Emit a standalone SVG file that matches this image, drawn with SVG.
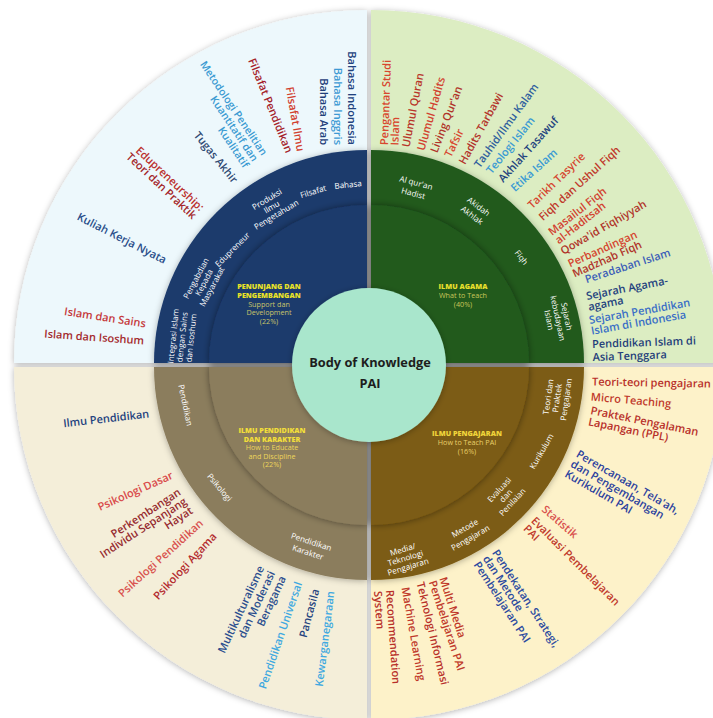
<svg xmlns="http://www.w3.org/2000/svg" width="713" height="718" viewBox="0 0 713 718">
<defs>
<filter id="sh" x="-20%" y="-20%" width="140%" height="140%"><feDropShadow dx="0" dy="1" stdDeviation="3" flood-color="#000" flood-opacity="0.3"/></filter>
<filter id="sh2" x="-20%" y="-20%" width="140%" height="140%"><feDropShadow dx="0" dy="0" stdDeviation="3.5" flood-color="#000" flood-opacity="0.45"/></filter>
<style>
text{font-family:"Open Sans","Liberation Sans",sans-serif;dominant-baseline:central}
.o{font-size:11px;font-weight:600}
.e{text-anchor:end}
.s{text-anchor:start}
.r{font-size:8.1px;fill:#fff;text-anchor:middle}
.h{font-size:7.2px;font-weight:800;text-anchor:middle}
.t{font-size:7.2px;text-anchor:middle}
.c{font-size:12.8px;font-weight:700;fill:#1d1d1d;text-anchor:middle}
</style>
</defs>
<rect width="713" height="718" fill="#fff"/>
<g id="background">
<g filter="url(#sh)">
<path d="M367,363 L14,363 A353,353 0 0 1 367,10 Z" fill="#edf8fc"/>
<path d="M371,363 L371,10 A353,353 0 0 1 724,363 Z" fill="#dcedc2"/>
<path d="M371,367 L724,367 A353,353 0 0 1 371,720 Z" fill="#fdf2c9"/>
<path d="M367,367 L367,720 A353,353 0 0 1 14,367 Z" fill="#f4eed9"/>
</g>
<g filter="url(#sh)">
<path d="M367,363 L154,363 A213,213 0 0 1 367,150 Z" fill="#1c3a6c"/>
<path d="M371,363 L371,150 A213,213 0 0 1 584,363 Z" fill="#215a1f"/>
<path d="M371,367 L584,367 A213,213 0 0 1 371,580 Z" fill="#7c5b14"/>
<path d="M367,367 L367,580 A213,213 0 0 1 154,367 Z" fill="#8b7d5d"/>
</g>
<g filter="url(#sh2)">
<path d="M367,363 L209,363 A158,158 0 0 1 367,205 Z" fill="#1c3a6c"/>
<path d="M371,363 L371,205 A158,158 0 0 1 529,363 Z" fill="#215a1f"/>
<path d="M371,367 L529,367 A158,158 0 0 1 371,525 Z" fill="#7c5b14"/>
<path d="M367,367 L367,525 A158,158 0 0 1 209,367 Z" fill="#8b7d5d"/>
</g>
</g>
<g id="connectors"/>
<g id="node-center">
<circle cx="369" cy="365" r="77" fill="#a9e6cc" filter="url(#sh)"/>
<text class="c" x="370" y="362">Body of Knowledge</text>
<text class="c" x="370" y="383">PAI</text>
</g>

<g id="node-penunjang">
<text class="h" fill="#e9e227"><tspan x="269" y="286">PENUNJANG DAN</tspan><tspan x="269" y="295">PENGEMBANGAN</tspan></text>
<text class="t" fill="#c9c46a"><tspan x="269" y="303.5">Support dan</tspan><tspan x="269" y="312">Development</tspan><tspan x="269" y="320.5">(22%)</tspan></text>
<text id="r-bahasa" class="r" transform="translate(348,184) rotate(-6)">Bahasa</text>
<text id="r-filsafat" class="r" transform="translate(313,191) rotate(-17)">Filsafat</text>
<text id="r-produksi" class="r" transform="translate(271,206) rotate(-31)"><tspan x="0" y="-9">Produksi</tspan><tspan x="0" y="0">Ilmu</tspan><tspan x="0" y="9">Pengetahuan</tspan></text>
<text id="r-edupreneur" class="r" transform="translate(232,249) rotate(-45)">Edupreneur</text>
<text id="r-pengabdian" class="r" transform="translate(203,282) rotate(-62)"><tspan x="0" y="-9">Pengabdian</tspan><tspan x="0" y="0">Kepada</tspan><tspan x="0" y="9">Masyarakat</tspan></text>
<text id="r-integrasi" class="r" transform="translate(181,337) rotate(-84)"><tspan x="0" y="-9">Integrasi Islam</tspan><tspan x="0" y="0">dengan Sains</tspan><tspan x="0" y="9">dan Isoshum</tspan></text>
<text id="o-bahasa" class="o e" transform="translate(353,145) rotate(90)"><tspan x="0" y="0" fill="#22427e">Bahasa Indonesia</tspan><tspan x="0" y="14" fill="#3d9ad4">Bahasa Inggris</tspan><tspan x="0" y="28" fill="#1f3e7a">Bahasa Arab</tspan></text>
<text id="o-filsafat-ilmu" class="o e" fill="#d2412f" transform="translate(301.5,151) rotate(80)">Filsafat Ilmu</text>
<text id="o-filsafat-pend" class="o e" fill="#a5232b" transform="translate(290,152) rotate(68)">Filsafat Pendidikan</text>
<text id="o-metodologi" class="o e" fill="#3a9ad2" style="font-size:10.5px" transform="translate(265,154) rotate(56)"><tspan x="0" y="0">Metodologi Penelitian</tspan><tspan x="0" y="11">Kuantitatif dan</tspan><tspan x="0" y="22">Kualitatif</tspan></text>
<text id="o-tugas" class="o e" fill="#2f4a73" transform="translate(236,181) rotate(51)">Tugas Akhir</text>
<text id="o-edupreneurship" class="o e" transform="translate(203,208) rotate(43)"><tspan x="0" y="0" fill="#bb302e">Edupreneurship:</tspan><tspan x="0" y="11" fill="#a3262a">Teori dan Praktik</tspan></text>
<text id="o-kkn" class="o e" fill="#2a4e8a" transform="translate(166,260) rotate(27)">Kuliah Kerja Nyata</text>
<text id="o-sains" class="o e" fill="#c5383b" transform="translate(146,323) rotate(8.7)">Islam dan Sains</text>
<text id="o-isoshum" class="o e" fill="#a42b2e" transform="translate(144,340) rotate(4)">Islam dan Isoshum</text>
</g>

<g id="node-agama">
<text class="h" fill="#e6df2c" x="463" y="286">ILMU AGAMA</text>
<text class="t" fill="#c8c65a"><tspan x="463" y="295">What to Teach</tspan><tspan x="463" y="303.5">(40%)</tspan></text>
<text id="r-alquran" class="r" transform="translate(415,187) rotate(15)"><tspan x="0" y="-5.5">Al qur'an</tspan><tspan x="0" y="5.5">Hadist</tspan></text>
<text id="r-akidah" class="r" transform="translate(476,210) rotate(37)"><tspan x="0" y="-5.5">Akidah</tspan><tspan x="0" y="5.5">Akhlak</tspan></text>
<text id="r-fiqh" class="r" transform="translate(522,257) rotate(53)">Fiqh</text>
<text id="r-sejarah" class="r" transform="translate(559,318) rotate(78)"><tspan x="0" y="-9">Sejarah</tspan><tspan x="0" y="0">kebudayaan</tspan><tspan x="0" y="9">Islam</tspan></text>
<text id="o-pengantar" class="o s" fill="#d8462e" transform="translate(383,145) rotate(-88)"><tspan x="0" y="0">Pengantar Studi</tspan><tspan x="0" y="10.5">Islam</tspan></text>
<text id="o-ulumul-quran" class="o s" fill="#b8352a" transform="translate(405,147) rotate(-79)">Ulumul Quran</text>
<text id="o-ulumul-hadits" class="o s" fill="#d2412f" transform="translate(420,150) rotate(-74)">Ulumul Hadits</text>
<text id="o-living" class="o s" fill="#b0342a" transform="translate(433,152) rotate(-69)">Living Qur'an</text>
<text id="o-tafsir" class="o s" fill="#d8452f" transform="translate(447,156) rotate(-64)">Tafsir</text>
<text id="o-hadits-tarbawi" class="o s" fill="#b3332b" transform="translate(461,163) rotate(-61)">Hadits Tarbawi</text>
<text id="o-tauhid" class="o s" fill="#2f5f9e" transform="translate(476,166) rotate(-54)">Tauhid/Ilmu Kalam</text>
<text id="o-teologi" class="o s" fill="#3b9bd3" transform="translate(488,172) rotate(-51)">Teologi Islam</text>
<text id="o-akhlak" class="o s" fill="#23427e" transform="translate(500,180) rotate(-48)">Akhlak Tasawuf</text>
<text id="o-etika" class="o s" fill="#3b9bd3" transform="translate(512,189) rotate(-42)">Etika Islam</text>
<text id="o-tarikh" class="o s" fill="#d5452f" transform="translate(529,206) rotate(-44)">Tarikh Tasyrie</text>
<text id="o-fiqh-ushul" class="o s" fill="#c0392b" transform="translate(540,218) rotate(-42)">Fiqh dan Ushul Fiqh</text>
<text id="o-masailul" class="o s" fill="#d2412f" transform="translate(549,232) rotate(-38)"><tspan x="0" y="0">Masailul Fiqh</tspan><tspan x="0" y="11">al-Haditsah</tspan></text>
<text id="o-qowaid" class="o s" fill="#b0342a" transform="translate(561,251) rotate(-30)">Qowa'id Fiqhiyyah</text>
<text id="o-perbandingan" class="o s" transform="translate(568,263) rotate(-24)"><tspan x="0" y="0" fill="#d5452f">Perbandingan</tspan><tspan x="0" y="11" fill="#b0342a">Madzhab Fiqh</tspan></text>
<text id="o-peradaban" class="o s" fill="#3d5fb8" transform="translate(585,279) rotate(-18)">Peradaban Islam</text>
<text id="o-sejarah-agama" class="o s" fill="#23427e" transform="translate(586,295) rotate(-11)"><tspan x="0" y="0">Sejarah Agama-</tspan><tspan x="0" y="11">agama</tspan></text>
<text id="o-sejarah-pend" class="o s" fill="#3a6fc6" transform="translate(589,319) rotate(-10)"><tspan x="0" y="0">Sejarah Pendidikan</tspan><tspan x="0" y="11">Islam di Indonesia</tspan></text>
<text id="o-asia" class="o s" fill="#1f3e7a" transform="translate(592,343) rotate(-2)"><tspan x="0" y="0">Pendidikan Islam di</tspan><tspan x="0" y="13">Asia Tenggara</tspan></text>
</g>

<g id="node-pendidikan">
<text class="h" fill="#f2de3a"><tspan x="272" y="430">ILMU PENDIDIKAN</tspan><tspan x="272" y="438.5">DAN KARAKTER</tspan></text>
<text class="t" fill="#eed65a"><tspan x="272" y="447">How to Educate</tspan><tspan x="272" y="455.5">and Discipline</tspan><tspan x="272" y="464">(22%)</tspan></text>
<text id="r-pendidikan" class="r" transform="translate(186,405) rotate(78)">Pendidikan</text>
<text id="r-psikologi" class="r" transform="translate(220,487) rotate(50)">Psikologi</text>
<text id="r-karakter" class="r" transform="translate(310,546) rotate(18)"><tspan x="0" y="-5.5">Pendidikan</tspan><tspan x="0" y="5.5">Karakter</tspan></text>
<text id="o-ilmu-pend" class="o e" fill="#23427e" transform="translate(149,413) rotate(-6.5)">Ilmu Pendidikan</text>
<text id="o-psi-dasar" class="o e" fill="#d94a4a" transform="translate(172,474) rotate(-24)">Psikologi Dasar</text>
<text id="o-perkembangan" class="o e" fill="#962b30" transform="translate(179,490) rotate(-33)"><tspan x="0" y="0">Perkembangan</tspan><tspan x="0" y="11">Individu Sepanjang</tspan><tspan x="0" y="22">Hayat</tspan></text>
<text id="o-psi-pend" class="o e" fill="#d9534f" transform="translate(201,521) rotate(-42)">Psikologi Pendidikan</text>
<text id="o-psi-agama" class="o e" fill="#b32a2e" transform="translate(214,534) rotate(-47)">Psikologi Agama</text>
<text id="o-multikultural" class="o e" fill="#2c4f8f" transform="translate(260,566) rotate(-65)"><tspan x="0" y="0">Multikulturalisme</tspan><tspan x="0" y="12">dan Moderasi</tspan><tspan x="0" y="24">Beragama</tspan></text>
<text id="o-universal" class="o e" fill="#3fa9e0" transform="translate(298,582) rotate(-71)">Pendidikan Universal</text>
<text id="o-pancasila" class="o e" fill="#23427e" transform="translate(315,589) rotate(-75)">Pancasila</text>
<text id="o-kewarganegaraan" class="o e" fill="#3fa9e0" transform="translate(330,591) rotate(-83)">Kewarganegaraan</text>
</g>

<g id="node-pengajaran">
<text class="h" fill="#f0d43a" x="467" y="433">ILMU PENGAJARAN</text>
<text class="t" fill="#e8cf6a"><tspan x="467" y="442">How to Teach PAI</tspan><tspan x="467" y="451">(16%)</tspan></text>
<text id="r-teori" class="r" transform="translate(556,398) rotate(-82)"><tspan x="0" y="-9">Teori dan</tspan><tspan x="0" y="0">Praktek</tspan><tspan x="0" y="9">Pengajaran</tspan></text>
<text id="r-kurikulum" class="r" transform="translate(541,451) rotate(-60)">Kurikulum</text>
<text id="r-evaluasi" class="r" transform="translate(505,495) rotate(-47)"><tspan x="0" y="-9">Evaluasi</tspan><tspan x="0" y="0">dan</tspan><tspan x="0" y="9">Penilaian</tspan></text>
<text id="r-metode" class="r" transform="translate(467,532) rotate(-30)"><tspan x="0" y="-5.5">Metode</tspan><tspan x="0" y="5.5">Pengajaran</tspan></text>
<text id="r-media" class="r" transform="translate(405,557) rotate(-17)"><tspan x="0" y="-9">Media/</tspan><tspan x="0" y="0">Teknologi</tspan><tspan x="0" y="9">Pengajaran</tspan></text>
<text id="o-teori-teori" class="o s" fill="#b8302a" transform="translate(592,381) rotate(1)">Teori-teori pengajaran</text>
<text id="o-micro" class="o s" fill="#c0392b" transform="translate(591,396) rotate(5)">Micro Teaching</text>
<text id="o-ppl" class="o s" fill="#b8302a" transform="translate(591,409) rotate(11.5)"><tspan x="0" y="0">Praktek Pengalaman</tspan><tspan x="0" y="11.5">Lapangan (PPL)</tspan></text>
<text id="o-perencanaan" class="o s" fill="#2b3f9e" transform="translate(578,452) rotate(30)"><tspan x="0" y="0">Perencanaan, Tela'ah,</tspan><tspan x="0" y="11.5">dan Pengembangan</tspan><tspan x="0" y="23">Kurikulum PAI</tspan></text>
<text id="o-statistik" class="o s" fill="#d9534f" transform="translate(544,507) rotate(41)">Statistik</text>
<text id="o-evaluasi" class="o s" fill="#c0392b" transform="translate(534,518) rotate(45)"><tspan x="0" y="0">Evaluasi Pembelajaran</tspan><tspan x="0" y="11">PAI</tspan></text>
<text id="o-pendekatan" class="o s" fill="#2b4aa0" transform="translate(496,550) rotate(57)"><tspan x="0" y="0">Pendekatan, Strategi,</tspan><tspan x="0" y="11">dan Metode</tspan><tspan x="0" y="22">Pembelajaran PAI</tspan></text>
<text id="o-multimedia" class="o s" fill="#c0392b" transform="translate(444,577) rotate(72)"><tspan x="0" y="0">Multi Media</tspan><tspan x="0" y="11">Pembelajaran PAI</tspan></text>
<text id="o-teknologi" class="o s" fill="#b8302a" transform="translate(421,582) rotate(76.5)">Teknologi Informasi</text>
<text id="o-machine" class="o s" fill="#c0392b" transform="translate(406,587) rotate(80)">Machine Learning</text>
<text id="o-recommendation" class="o s" fill="#b8302a" transform="translate(391,590) rotate(86)"><tspan x="0" y="0">Recommendation</tspan><tspan x="0" y="12">System</tspan></text>
</g>
</svg>
